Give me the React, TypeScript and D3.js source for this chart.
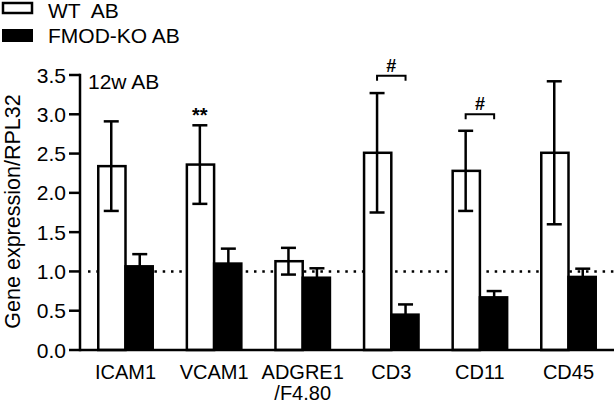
import React from 'react';
import * as d3 from 'd3';

const categories = ['ICAM1', 'VCAM1', 'ADGRE1', 'CD3', 'CD11', 'CD45'];
const categoryLabels = [['ICAM1'], ['VCAM1'], ['ADGRE1', '/F4.80'], ['CD3'], ['CD11'], ['CD45']];
const wtMean = [2.34, 2.36, 1.13, 2.51, 2.28, 2.51];
const wtErr = [0.57, 0.5, 0.17, 0.76, 0.51, 0.91];
const koMean = [1.065, 1.1, 0.92, 0.45, 0.67, 0.93];
const koErr = [0.155, 0.19, 0.12, 0.13, 0.08, 0.105];
const yTicks = [0, 0.5, 1.0, 1.5, 2.0, 2.5, 3.0, 3.5];
const seriesNames = ['WT  AB', 'FMOD-KO AB'];
const panelTitle = '12w AB';
const yLabel = 'Gene expression/RPL32';
const referenceLine = 1.0;
const starMarks = [{ cat: 'VCAM1', text: '**' }];
const hashMarks = [{ cat: 'CD3', text: '#', level: 3.49 }, { cat: 'CD11', text: '#', level: 3.0 }];

const FONT = '"Liberation Sans", Arial, sans-serif';

export default function App() {
  const W = 615, H = 406;
  const x = d3.scaleBand<string>().domain(categories).range([80, 614]).paddingInner(0.357).paddingOuter(0.192);
  const y = d3.scaleLinear().domain([0, 3.5]).range([350, 75]);
  const bw = x.bandwidth() / 2;
  const sw = 2.5;
  const cap = 7.5;

  return (
    <svg width={W} height={H} style={{ position: 'absolute', left: 0, top: 0, background: '#fff' }} fontFamily={FONT}>
      <rect x={0} y={0} width={W} height={H} fill="#fff" />
      {/* legend */}
      <rect x={3} y={3} width={29} height={10} fill="#fff" stroke="#000" strokeWidth={sw} />
      <text x={48} y={18} fontSize={21} style={{ whiteSpace: 'pre' }}>{seriesNames[0]}</text>
      <rect x={2} y={29} width={31} height={13} fill="#000" />
      <text x={48} y={43} fontSize={21} style={{ whiteSpace: 'pre' }}>{seriesNames[1]}</text>

      {/* y label */}
      <text transform={`translate(20,${(90 + 333) / 2}) rotate(-90)`} textAnchor="middle" fontSize={21.5}>{yLabel}</text>

      {/* reference dotted line */}
      <line x1={88} x2={614} y1={y(referenceLine)} y2={y(referenceLine)} stroke="#000" strokeWidth={2.5} strokeDasharray="2.5 5.8" />

      {/* bars */}
      {categories.map((c, i) => {
        const x0 = x(c)!;
        const cw = x0 + bw / 2;
        const cb = x0 + bw + bw / 2;
        return (
          <g key={c}>
            <rect x={x0 + sw / 2} y={y(wtMean[i])} width={bw - sw / 2} height={y(0) - y(wtMean[i])} fill="#fff" stroke="#000" strokeWidth={sw} />
            <rect x={x0 + bw - sw / 2} y={y(koMean[i]) - sw / 2} width={bw + sw / 2} height={y(0) - y(koMean[i]) + sw / 2} fill="#000" />
            {/* WT error */}
            <line x1={cw} x2={cw} y1={y(wtMean[i] + wtErr[i])} y2={y(wtMean[i] - wtErr[i])} stroke="#000" strokeWidth={sw} />
            <line x1={cw - cap} x2={cw + cap} y1={y(wtMean[i] + wtErr[i])} y2={y(wtMean[i] + wtErr[i])} stroke="#000" strokeWidth={sw} />
            <line x1={cw - cap} x2={cw + cap} y1={y(wtMean[i] - wtErr[i])} y2={y(wtMean[i] - wtErr[i])} stroke="#000" strokeWidth={sw} />
            {/* KO error */}
            <line x1={cb} x2={cb} y1={y(koMean[i] + koErr[i])} y2={y(koMean[i])} stroke="#000" strokeWidth={sw} />
            <line x1={cb - cap} x2={cb + cap} y1={y(koMean[i] + koErr[i])} y2={y(koMean[i] + koErr[i])} stroke="#000" strokeWidth={sw} />
          </g>
        );
      })}

      {/* significance */}
      {starMarks.map((m) => {
        const i = categories.indexOf(m.cat);
        const cw = x(m.cat)! + bw / 2;
        return (
          <text key={m.cat} x={cw} y={y(wtMean[i] + wtErr[i]) - 3} textAnchor="middle" fontSize={20} fontWeight="bold">{m.text}</text>
        );
      })}
      {hashMarks.map((m) => {
        const cw = x(m.cat)! + bw / 2;
        const cb = x(m.cat)! + bw * 1.5;
        const yy = y(m.level);
        return (
          <g key={m.cat}>
            <path d={`M${cw},${yy + 5}V${yy}H${cb}V${yy + 5}`} fill="none" stroke="#000" strokeWidth={2} />
            <text x={(cw + cb) / 2} y={yy - 4} textAnchor="middle" fontSize={18} fontWeight="bold">{m.text}</text>
          </g>
        );
      })}

      {/* panel title */}
      <text x={88} y={89} fontSize={21}>{panelTitle}</text>

      {/* y axis */}
      <line x1={80} x2={80} y1={y(3.5) - sw / 2} y2={y(0) + sw / 2} stroke="#000" strokeWidth={sw} />
      {yTicks.map((t) => (
        <g key={t}>
          <line x1={69} x2={80} y1={y(t)} y2={y(t)} stroke="#000" strokeWidth={sw} />
          <text x={66} y={y(t)} dy="0.36em" textAnchor="end" fontSize={21}>{t.toFixed(1)}</text>
        </g>
      ))}
      {/* x axis */}
      <line x1={80} x2={614} y1={y(0)} y2={y(0)} stroke="#000" strokeWidth={sw} />
      {categories.map((c, i) => (
        <text key={c} x={x(c)! + x.bandwidth() / 2} y={379} textAnchor="middle" fontSize={20}>
          {categoryLabels[i].map((l, j) => (
            <tspan key={j} x={x(c)! + x.bandwidth() / 2} dy={j === 0 ? 0 : 21}>{l}</tspan>
          ))}
        </text>
      ))}
    </svg>
  );
}
